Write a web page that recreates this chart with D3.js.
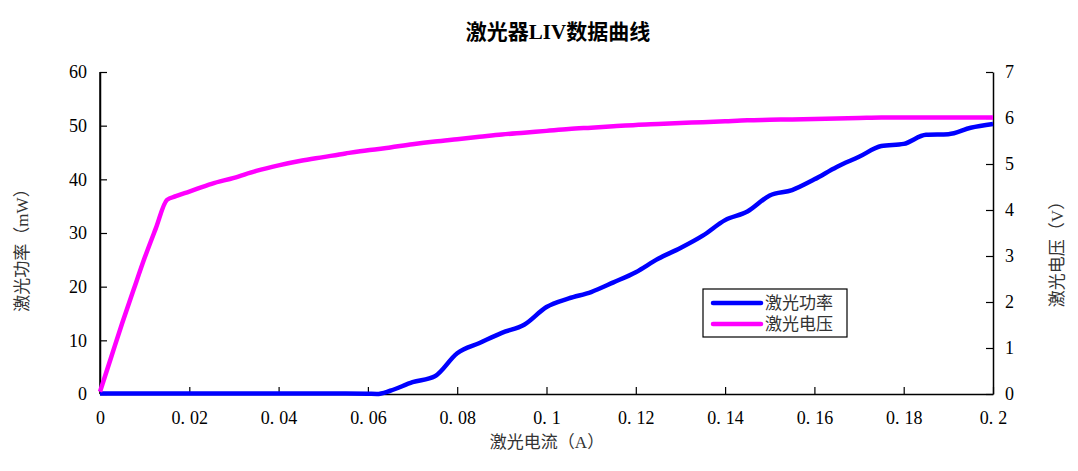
<!DOCTYPE html>
<html><head><meta charset="utf-8">
<script src="https://cdn.jsdelivr.net/npm/d3@7"></script>
<style>
body{margin:0;background:#fff;}
text{font-family:"Liberation Serif","Noto Sans CJK SC",serif;}
</style></head>
<body><svg id="c" width="1078" height="471"></svg>
<script>
const current = [0,0.0025,0.005,0.0075,0.01,0.0125,0.015,0.017,0.02,0.025,0.03,0.035,0.04,0.045,0.05,0.055,0.06,0.062,0.065,0.07,0.075,0.08,0.085,0.09,0.095,0.1,0.105,0.11,0.115,0.12,0.125,0.13,0.135,0.14,0.145,0.15,0.155,0.16,0.165,0.17,0.175,0.18,0.185,0.19,0.195,0.2];
const power   = [0.1,0.1,0.1,0.1,0.1,0.1,0.1,0.1,0.1,0.1,0.1,0.1,0.1,0.1,0.1,0.1,0.05,0,0.6,2.2,3.3,7.6,9.5,11.4,12.9,16.2,17.8,19.0,20.8,22.7,25.2,27.2,29.5,32.4,34.0,37.0,38.0,40.0,42.3,44.2,46.2,46.6,48.3,48.4,49.6,50.3];
const voltage = [0.05,0.8,1.55,2.26,2.96,3.6,4.22,4.3,4.4,4.57,4.7,4.85,4.97,5.07,5.15,5.23,5.3,5.32,5.36,5.43,5.49,5.54,5.59,5.64,5.68,5.72,5.76,5.79,5.82,5.85,5.87,5.89,5.91,5.93,5.95,5.96,5.97,5.98,5.99,6.0,6.01,6.01,6.01,6.01,6.01,6.01];
const xTicks = [0,0.02,0.04,0.06,0.08,0.1,0.12,0.14,0.16,0.18,0.2];
const yLeftTicks = [0,10,20,30,40,50,60];
const yRightTicks = [0,1,2,3,4,5,6,7];
const seriesNames = ["激光功率","激光电压"];
const colors = ["#0000ff","#ff00ff"];

const svg = d3.select("#c");
const L=100,R=993,T=72,B=394;
const x = d3.scaleLinear().domain([0,0.2]).range([L,R]);
const yL = d3.scaleLinear().domain([0,60]).range([B,T]);
const yR = d3.scaleLinear().domain([0,7]).range([B,T]);

// axes
const ax = svg.append("g").attr("transform",`translate(0,${B})`)
  .call(d3.axisBottom(x).tickValues(xTicks).tickSizeInner(-7).tickSizeOuter(0).tickFormat(()=>""));
const ayl = svg.append("g").attr("transform",`translate(${L},0)`)
  .call(d3.axisLeft(yL).tickValues(yLeftTicks).tickSizeInner(-7).tickSizeOuter(0).tickFormat(d=>d));
const ayr = svg.append("g").attr("transform",`translate(${R},0)`)
  .call(d3.axisRight(yR).tickValues(yRightTicks).tickSizeInner(-7).tickSizeOuter(0).tickFormat(d=>d));
svg.append("line").attr("x1",L).attr("x2",L).attr("y1",T).attr("y2",B).attr("stroke","#000").attr("stroke-width",1.5);
[ax,ayl,ayr].forEach(g=>{
  g.selectAll(".domain").attr("stroke","#000").attr("stroke-width",1.5);
  g.selectAll(".tick line").attr("stroke","#000").attr("stroke-width",1.2);
  g.selectAll("text").attr("font-size",18).attr("fill","#000").attr("font-family","Liberation Serif");
});
ayl.selectAll(".tick text").attr("x",-13);
ayr.selectAll(".tick text").attr("x",12);
// x tick labels with wide decimal point
ax.selectAll(".tick").each(function(d){
  const t = d3.select(this).select("text").attr("y",17).attr("dy","0.71em").text(null);
  const s = String(d);
  const parts = s.split(".");
  t.append("tspan").text(parts[0]+(parts.length>1?".":""));
  if(parts.length>1) t.append("tspan").attr("dx",5).text(parts[1]);
});

// lines
const lineP = d3.line().x((d,i)=>x(current[i])).y(d=>yL(d)).curve(d3.curveMonotoneX);
const lineV = d3.line().x((d,i)=>x(current[i])).y(d=>yR(d)).curve(d3.curveMonotoneX);
svg.append("path").attr("d",lineP(power)).attr("fill","none").attr("stroke",colors[0]).attr("stroke-width",4.5).attr("stroke-linejoin","round");
svg.append("path").attr("d",lineV(voltage)).attr("fill","none").attr("stroke",colors[1]).attr("stroke-width",4.5).attr("stroke-linejoin","round");

// title
svg.append("text").attr("x",558).attr("y",39).attr("text-anchor","middle")
  .attr("font-size",21).attr("font-weight","bold").text("激光器LIV数据曲线");
// axis titles
svg.append("text").attr("x",547).attr("y",448).attr("text-anchor","middle")
  .attr("font-size",17).attr("fill","#333").text("激光电流（A）");
svg.append("text").attr("transform","translate(28,246) rotate(-90)").attr("text-anchor","middle")
  .attr("font-size",17).attr("fill","#333").text("激光功率（mW）");
svg.append("text").attr("transform","translate(1063,250) rotate(-90)").attr("text-anchor","middle")
  .attr("font-size",17).attr("fill","#333").text("激光电压（V）");

// legend
const lg = svg.append("g");
lg.append("rect").attr("x",703).attr("y",289).attr("width",144).attr("height",48)
  .attr("fill","#fff").attr("stroke","#000").attr("stroke-width",1.2);
seriesNames.forEach((n,i)=>{
  const yy = 303+i*21;
  lg.append("line").attr("x1",713).attr("x2",761).attr("y1",yy).attr("y2",yy)
    .attr("stroke",colors[i]).attr("stroke-width",4.5).attr("stroke-linecap","round");
  lg.append("text").attr("x",765).attr("y",yy+6).attr("font-size",17).attr("fill","#333").text(n);
});
</script></body></html>
